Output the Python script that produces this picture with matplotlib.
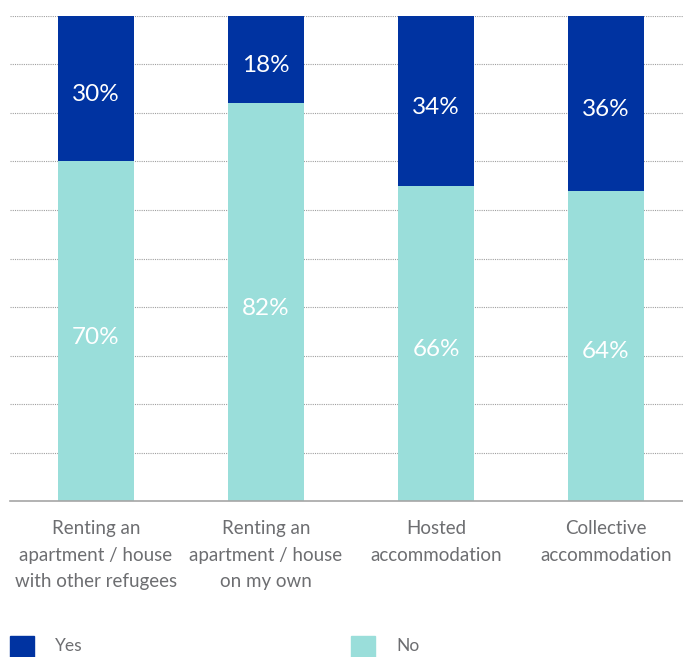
import matplotlib.pyplot as plt
from matplotlib.patches import Rectangle

categories = ['Renting an\napartment / house\nwith other refugees',
              'Renting an\napartment / house\non my own',
              'Hosted\naccommodation',
              'Collective\naccommodation']
# bar heights as drawn in the reference
no_vals = [70, 82, 65, 64]
yes_vals = [30, 18, 35, 36]
# printed labels
no_labels = ['70%', '82%', '66%', '64%']
yes_labels = ['30%', '18%', '34%', '36%']

YES_C = '#0033a1'
NO_C = '#9adeda'
TXT = '#6d6e71'

plt.rcParams['font.family'] = ['Lato', 'DejaVu Sans']

fig = plt.figure(figsize=(6.83, 6.57), dpi=100)
W, H = 683, 657
ax = fig.add_axes([10 / W, 1 - 501 / H, 1 - 10 / W, 485 / H])

x = list(range(len(categories)))
bw = 76 / 170
ax.bar(x, no_vals, width=bw, color=NO_C, zorder=2)
ax.bar(x, yes_vals, width=bw, bottom=no_vals, color=YES_C, zorder=2)

for i in x:
    ax.annotate(no_labels[i], (i, no_vals[i] / 2), xytext=(0, -3),
                textcoords='offset points', ha='center', va='center_baseline',
                color='white', fontsize=17.5)
    ax.annotate(yes_labels[i], (i, no_vals[i] + yes_vals[i] / 2), xytext=(0, -3),
                textcoords='offset points', ha='center', va='center_baseline',
                color='white', fontsize=17.5)

ax.set_xlim(-86 / 170, (683 - 96) / 170)
ax.set_ylim(0, 100)
ax.set_yticks(range(10, 101, 10))
ax.yaxis.grid(True, color='#a0a0a0', linestyle=(0, (1, 1)), linewidth=0.8, zorder=0)
ax.tick_params(axis='y', left=False, labelleft=False)
ax.tick_params(axis='x', bottom=False, pad=10.5)
ax.set_xticks(x)
ax.set_xticklabels(categories, fontsize=13.5, color=TXT, linespacing=1.68)
for s in ['left', 'right', 'top']:
    ax.spines[s].set_visible(False)
ax.spines['bottom'].set_color('#a6a6a6')
ax.spines['bottom'].set_linewidth(1.2)

# legend
for px, lab, col in [(10, 'Yes', YES_C), (351, 'No', NO_C)]:
    fig.add_artist(Rectangle((px / W, 0), 24 / W, 21 / H, color=col,
                             transform=fig.transFigure))
    fig.text((px + 45) / W, 11 / H, lab, color=TXT, fontsize=12.5, va='center')

fig.savefig('out.png', dpi=100)
